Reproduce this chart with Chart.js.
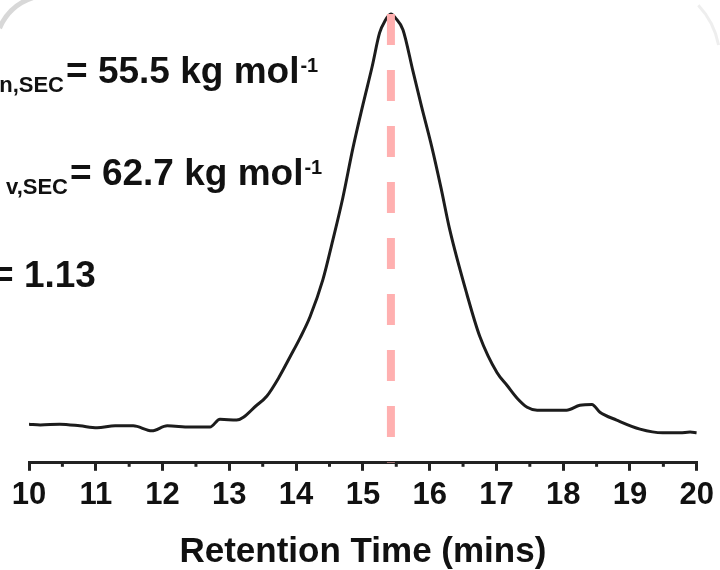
<!DOCTYPE html>
<html>
<head>
<meta charset="utf-8">
<script src="https://cdn.jsdelivr.net/npm/chart.js@4"></script>
<style>
  html, body { margin: 0; padding: 0; background: #fff; }
</style>
</head>
<body>
<canvas id="secChart" width="720" height="570"></canvas>
<script>
// SEC trace (normalised, peak = 1)
const retentionTime = [10.0, 10.17, 10.46, 10.76, 11.02, 11.29, 11.56, 11.84, 12.07, 12.41, 12.71, 12.86, 13.11, 13.41, 13.56, 13.74, 13.91, 14.06, 14.21, 14.40, 14.55, 14.70, 14.85, 15.00, 15.14, 15.25, 15.33, 15.42, 15.49, 15.60, 15.75, 15.88, 16.03, 16.17, 16.30, 16.56, 16.75, 17.01, 17.16, 17.31, 17.46, 17.61, 17.83, 18.05, 18.25, 18.43, 18.55, 18.80, 19.15, 19.49, 19.75, 19.90, 20.0];
const signal = [0.002, 0.000, 0.002, -0.002, -0.007, -0.002, -0.002, -0.014, -0.002, -0.005, -0.005, 0.014, 0.012, 0.048, 0.070, 0.115, 0.166, 0.212, 0.264, 0.353, 0.450, 0.553, 0.673, 0.779, 0.873, 0.954, 0.983, 1.000, 0.990, 0.962, 0.861, 0.774, 0.678, 0.577, 0.476, 0.317, 0.216, 0.127, 0.096, 0.065, 0.043, 0.036, 0.036, 0.036, 0.048, 0.050, 0.031, 0.012, -0.010, -0.019, -0.019, -0.017, -0.019];
const peakTime = 15.42;
const tickLabels = ['10', '11', '12', '13', '14', '15', '16', '17', '18', '19', '20'];
const massSubs = ['n,SEC', 'v,SEC'];
const massValues = ['= 55.5 kg mol', '= 62.7 kg mol'];
const massSup = '-1';
const dispersityText = '= 1.13';

const yMin = -0.092, yMax = 1.022;
const FONT = '"Liberation Sans", Arial, sans-serif';

// small ticks at the half minutes
const minorTicks = {
    id: 'minorTicks',
    afterDraw(chart) {
        const sx = chart.scales.x;
        const c = chart.ctx;
        const y0 = chart.chartArea.bottom;
        c.save();
        c.strokeStyle = '#222';
        c.lineWidth = 3;
        for (let v = 10.5; v < 20; v += 1) {
            const px = sx.getPixelForValue(v);
            c.beginPath();
            c.moveTo(px, y0);
            c.lineTo(px, y0 + 4);
            c.stroke();
        }
        c.restore();
    }
};

// the Mn / Mw / D text block (cut at the left edge like the source)
const notes = {
    id: 'notes',
    afterDraw(chart) {
        const c = chart.ctx;
        c.save();
        c.fillStyle = '#111';
        c.textBaseline = 'alphabetic';
        const rows = [
            { x: 66, base: 83 },
            { x: 70, base: 185 }
        ];
        rows.forEach((r, i) => {
            c.font = 'bold 22px ' + FONT;
            c.textAlign = 'right';
            c.fillText(massSubs[i], r.x - 2, r.base + 9);
            c.textAlign = 'left';
            c.font = 'bold 37px ' + FONT;
            c.fillText(massValues[i], r.x, r.base);
            const w = c.measureText(massValues[i]).width;
            c.font = 'bold 20px ' + FONT;
            c.fillText(massSup, r.x + w + 1, r.base - 11);
        });
        c.font = 'bold 37px ' + FONT;
        c.textAlign = 'left';
        c.fillText(dispersityText, -8, 287);

        // faint scan marks in the corners of the source
        c.strokeStyle = 'rgba(190,190,190,0.6)';
        c.lineWidth = 5;
        c.beginPath();
        c.arc(50, 50, 55, Math.PI * 1.13, Math.PI * 1.40);
        c.stroke();
        c.lineWidth = 3;
        c.strokeStyle = 'rgba(205,205,205,0.35)';
        c.beginPath();
        c.arc(640, 60, 80, -Math.PI * 0.24, -Math.PI * 0.06);
        c.stroke();
        c.restore();
    }
};

const ctx = document.getElementById('secChart').getContext('2d');
const secChart = new Chart(ctx, {
    type: 'line',
    data: {
        datasets: [{
            data: [{ x: peakTime, y: 1.0 }, { x: peakTime, y: yMin }],
            borderColor: '#ffb0b0',
            borderWidth: 8,
            borderDash: [31, 25],
            pointRadius: 0,
            order: 0
        }, {
            data: retentionTime.map((t, i) => ({ x: t, y: signal[i] })),
            borderColor: '#1c1c1c',
            borderWidth: 3,
            pointRadius: 0,
            cubicInterpolationMode: 'monotone',
            fill: false,
            order: 1
        }]
    },
    options: {
        responsive: false,
        animation: false,
        devicePixelRatio: 1,
        layout: { padding: { left: 29, right: 23, top: 5, bottom: 0 } },
        plugins: { legend: { display: false }, tooltip: { enabled: false } },
        scales: {
            x: {
                type: 'linear',
                min: 10,
                max: 20,
                border: { display: true, color: '#222', width: 3 },
                grid: { drawOnChartArea: false, drawTicks: true, tickLength: 8, color: '#222', lineWidth: 3 },
                ticks: {
                    stepSize: 1,
                    padding: 6,
                    color: '#111',
                    maxRotation: 0,
                    autoSkip: false,
                    font: { family: FONT, size: 31, weight: 'bold', lineHeight: 1.2 },
                    callback: (v, i) => tickLabels[i]
                },
                title: {
                    display: true,
                    text: 'Retention Time (mins)',
                    color: '#111',
                    font: { family: FONT, size: 35, weight: 'bold', lineHeight: 1 },
                    padding: { top: 15, bottom: 0 }
                }
            },
            y: { display: false, min: yMin, max: yMax }
        }
    },
    plugins: [minorTicks, notes]
});
</script>
</body>
</html>
